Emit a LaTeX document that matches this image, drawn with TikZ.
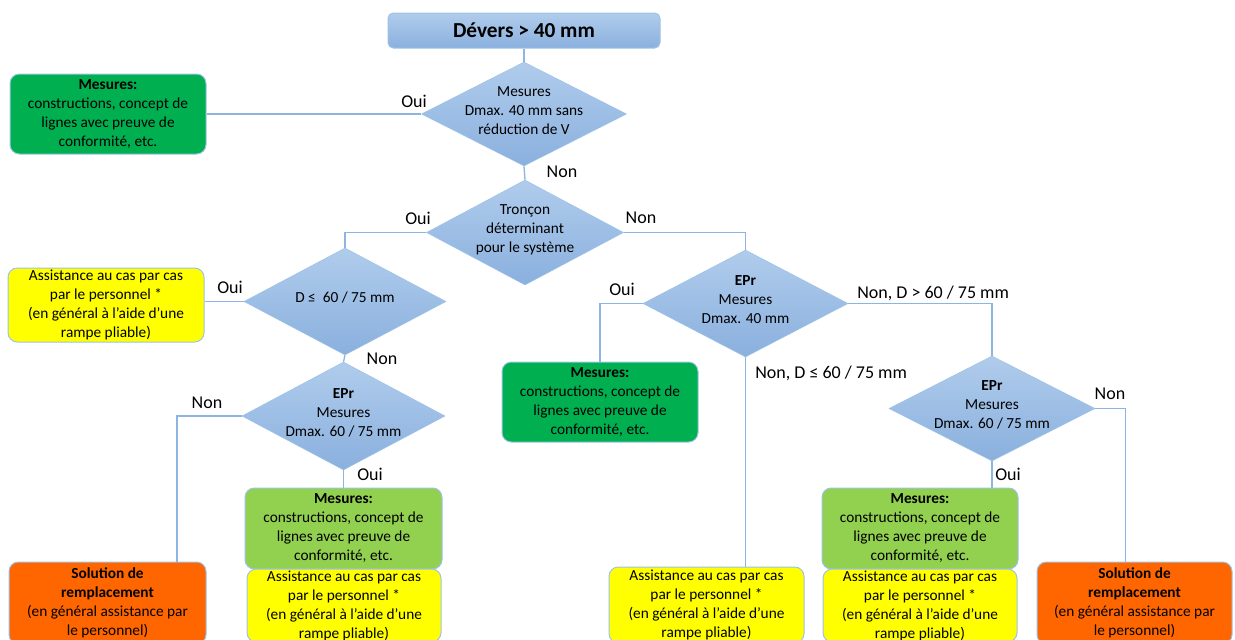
\documentclass[tikz,border=0pt]{standalone}
\usepackage{fontspec}
\setmainfont{Carlito}
\usetikzlibrary{shapes.geometric}
\definecolor{dgreen}{HTML}{00B050}
\definecolor{lgreen}{HTML}{92D050}
\definecolor{yel}{HTML}{FFFF00}
\definecolor{ora}{HTML}{FF6600}
\definecolor{lnblue}{HTML}{8EB4E3}
\definecolor{bdblue}{HTML}{9DC3E6}
\definecolor{dtop}{HTML}{B0CCEC}
\definecolor{dbot}{HTML}{8AB0DE}
\newcommand{\dtxt}[1]{\smash{\makebox[0pt]{\raisebox{-1pt}{\begin{tabular}{@{}c@{}}#1\end{tabular}}}}}
\newcommand{\mestxt}{\textbf{Mesures:}\\constructions, concept de\\lignes avec preuve de\\conformité, etc.}
\newcommand{\assisttxt}{Assistance au cas par cas\\par le personnel *\\(en général à l’aide d’une\\rampe pliable)}
\newcommand{\soltxt}{\textbf{Solution de}\\\textbf{remplacement}\\(en général assistance par\\le personnel)}
\begin{document}
\begin{tikzpicture}[x=0.75pt,y=-0.75pt,
  box/.style={draw=bdblue, line width=0.75pt, rounded corners=7pt, align=center, inner sep=0pt,
    font=\fontsize{11.5}{14.25}\selectfont},
  dia/.style={diamond, draw=bdblue, line width=0.4pt, top color=dtop, bottom color=dbot, inner sep=0pt,
    font=\fontsize{11.5}{14.25}\selectfont},
  conn/.style={draw=lnblue, line width=1pt},
  lab/.style={font=\fontsize{13.5}{16}\selectfont, inner sep=0pt}]
\useasboundingbox (0,0) rectangle (1235,639);
\fill[white] (0,0) rectangle (1235,639);
\clip (0,0) rectangle (1235,639);

% title
\node[draw=bdblue, line width=0.75pt, rounded corners=4pt, top color=dtop, bottom color=dbot,
  minimum width=272*0.75pt, minimum height=35*0.75pt, inner sep=0pt,
  font=\fontsize{16}{19}\selectfont\bfseries] (title) at (524,30.5) {Dévers > 40 mm};

% diamonds
\node[dia, minimum width=205*0.75pt, minimum height=104*0.75pt] (d1) at (524,114)
  {\dtxt{Mesures\\Dmax. 40 mm sans\\réduction de V}};
\node[dia, minimum width=197*0.75pt, minimum height=105*0.75pt] (d2) at (525,232.5)
  {\dtxt{Tronçon\\déterminant\\pour le système}};
\node[dia, minimum width=202*0.75pt, minimum height=107*0.75pt] (d3) at (345,301.5)
  {\dtxt{D ≤\ \ 60 / 75 mm}};
\node[dia, minimum width=203*0.75pt, minimum height=108*0.75pt] (d5) at (343.5,416)
  {\dtxt{\textbf{EPr}\\Mesures\\Dmax. 60 / 75 mm}};
\node[dia, minimum width=205*0.75pt, minimum height=107*0.75pt] (d4) at (745.5,303.5)
  {\dtxt{\textbf{EPr}\\Mesures\\Dmax. 40 mm}};
\node[dia, minimum width=206*0.75pt, minimum height=105*0.75pt] (d6) at (992,408.5)
  {\dtxt{\textbf{EPr}\\Mesures\\Dmax. 60 / 75 mm}};

% boxes
\node[box, fill=dgreen, minimum width=196*0.75pt, minimum height=80*0.75pt] (m1) at (108,114) {\mestxt};
\node[box, fill=yel, minimum width=196*0.75pt, minimum height=74*0.75pt] (y1) at (106,305) {\assisttxt};
\node[box, fill=ora, minimum width=197*0.75pt, minimum height=82*0.75pt] (o1) at (107.5,603) {\soltxt};
\node[box, fill=lgreen, minimum width=197*0.75pt, minimum height=81*0.75pt] (g2) at (343.5,528.5) {\mestxt};
\node[box, fill=yel, minimum width=194*0.75pt, minimum height=73*0.75pt] (y2) at (344,605.5) {\assisttxt};
\node[box, fill=dgreen, minimum width=196*0.75pt, minimum height=80*0.75pt] (g3) at (600,402) {\mestxt};
\node[box, fill=yel, minimum width=195*0.75pt, minimum height=76*0.75pt] (y3) at (706.5,605) {\assisttxt};
\node[box, fill=lgreen, minimum width=196*0.75pt, minimum height=81*0.75pt] (g4) at (920,528.5) {\mestxt};
\node[box, fill=yel, minimum width=194*0.75pt, minimum height=73*0.75pt] (y4) at (920,605.5) {\assisttxt};
\node[box, fill=ora, minimum width=195*0.75pt, minimum height=82*0.75pt] (o2) at (1134.5,603) {\soltxt};

% connectors
\draw[conn] (title.south) -- (d1.north);
\draw[conn] (m1.east) -- (d1.west);
\draw[conn] (d1.south) -- (d2.north);
\draw[conn] (d2.west) -| (d3.north);
\draw[conn] (d2.east) -| (d4.north);
\draw[conn] (d3.west) -- (d3.west -| y1.east);
\draw[conn] (d3.south) -- (d5.north);
\draw[conn] (d5.west) -| ([xshift=52pt]o1.north);
\draw[conn] (d5.south) -- (g2.north);
\draw[conn] (d4.west) -| (g3.north);
\draw[conn] (d4.south) -- (d4.south |- y3.north);
\draw[conn] (d4.east) -| (d6.north);
\draw[conn] (d6.south) -- (d6.south |- g4.north);
\draw[conn] (d6.east) -| ([xshift=-7pt]o2.north);

% labels
\node[lab] (l1) at (414,101) {Oui};
\node[lab] (l2) at (562,172) {Non};
\node[lab] (l3) at (418,218) {Oui};
\node[lab] (l4) at (641,218) {Non};
\node[lab] (l5) at (230,287) {Oui};
\node[lab] (l6) at (382,359) {Non};
\node[lab] (l7) at (207,403) {Non};
\node[lab] (l8) at (370,474) {Oui};
\node[lab] (l9) at (622,289) {Oui};
\node[lab, anchor=west] (l10) at (857,293) {Non, D > 60 / 75 mm};
\node[lab, anchor=west] (l11) at (755,373) {Non, D ≤ 60 / 75 mm};
\node[lab] (l12) at (1008,474) {Oui};
\node[lab] (l13) at (1110,394) {Non};
\end{tikzpicture}
\end{document}
